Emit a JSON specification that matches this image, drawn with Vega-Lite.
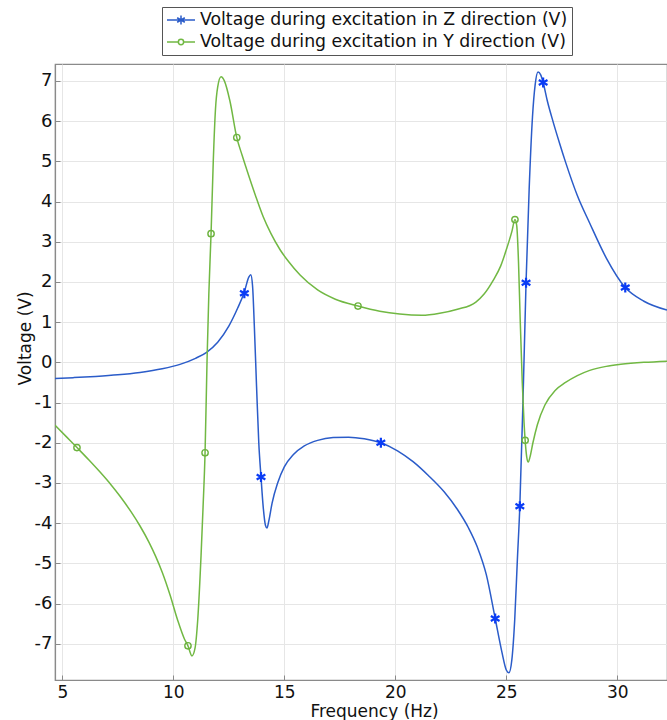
{
  "$schema": "https://vega.github.io/schema/vega-lite/v6.json",
  "autosize": {"type": "none"},
  "width": 612,
  "height": 616,
  "padding": {"left": 55, "top": 64, "right": 0, "bottom": 40},
  "background": "white",
  "config": {
    "font": "DejaVu Sans",
    "view": {"stroke": "#8a8a8a", "strokeWidth": 1.2},
    "axis": {
      "grid": true,
      "gridColor": "#e6e6e6",
      "gridWidth": 1,
      "domainColor": "#8a8a8a",
      "domainWidth": 1.2,
      "tickColor": "#8a8a8a",
      "tickSize": -5,
      "labelColor": "#111111",
      "titleColor": "#111111",
      "labelFontSize": 17,
      "titleFontSize": 17,
      "titleFontWeight": "normal"
    }
  },
  "datasets": {
    "lines": [
      {"f": 4.67, "v": -0.40, "s": "Voltage during excitation in Z direction (V)"},
      {"f": 5.5, "v": -0.38, "s": "Voltage during excitation in Z direction (V)"},
      {"f": 6.5, "v": -0.35, "s": "Voltage during excitation in Z direction (V)"},
      {"f": 7.5, "v": -0.31, "s": "Voltage during excitation in Z direction (V)"},
      {"f": 8.5, "v": -0.25, "s": "Voltage during excitation in Z direction (V)"},
      {"f": 9.5, "v": -0.16, "s": "Voltage during excitation in Z direction (V)"},
      {"f": 10.3, "v": -0.05, "s": "Voltage during excitation in Z direction (V)"},
      {"f": 11.0, "v": 0.10, "s": "Voltage during excitation in Z direction (V)"},
      {"f": 11.5, "v": 0.25, "s": "Voltage during excitation in Z direction (V)"},
      {"f": 12.0, "v": 0.50, "s": "Voltage during excitation in Z direction (V)"},
      {"f": 12.5, "v": 0.90, "s": "Voltage during excitation in Z direction (V)"},
      {"f": 12.9, "v": 1.35, "s": "Voltage during excitation in Z direction (V)"},
      {"f": 13.2, "v": 1.75, "s": "Voltage during excitation in Z direction (V)"},
      {"f": 13.4, "v": 2.12, "s": "Voltage during excitation in Z direction (V)"},
      {"f": 13.49, "v": 2.18, "s": "Voltage during excitation in Z direction (V)"},
      {"f": 13.57, "v": 1.9, "s": "Voltage during excitation in Z direction (V)"},
      {"f": 13.65, "v": 0.9, "s": "Voltage during excitation in Z direction (V)"},
      {"f": 13.75, "v": -0.6, "s": "Voltage during excitation in Z direction (V)"},
      {"f": 13.85, "v": -2.0, "s": "Voltage during excitation in Z direction (V)"},
      {"f": 13.95, "v": -2.85, "s": "Voltage during excitation in Z direction (V)"},
      {"f": 14.05, "v": -3.6, "s": "Voltage during excitation in Z direction (V)"},
      {"f": 14.15, "v": -4.05, "s": "Voltage during excitation in Z direction (V)"},
      {"f": 14.22, "v": -4.12, "s": "Voltage during excitation in Z direction (V)"},
      {"f": 14.3, "v": -3.95, "s": "Voltage during excitation in Z direction (V)"},
      {"f": 14.45, "v": -3.5, "s": "Voltage during excitation in Z direction (V)"},
      {"f": 14.7, "v": -3.0, "s": "Voltage during excitation in Z direction (V)"},
      {"f": 15.0, "v": -2.6, "s": "Voltage during excitation in Z direction (V)"},
      {"f": 15.4, "v": -2.3, "s": "Voltage during excitation in Z direction (V)"},
      {"f": 15.9, "v": -2.08, "s": "Voltage during excitation in Z direction (V)"},
      {"f": 16.5, "v": -1.94, "s": "Voltage during excitation in Z direction (V)"},
      {"f": 17.2, "v": -1.87, "s": "Voltage during excitation in Z direction (V)"},
      {"f": 17.9, "v": -1.86, "s": "Voltage during excitation in Z direction (V)"},
      {"f": 18.6, "v": -1.9, "s": "Voltage during excitation in Z direction (V)"},
      {"f": 19.35, "v": -2.0, "s": "Voltage during excitation in Z direction (V)"},
      {"f": 20.1, "v": -2.2, "s": "Voltage during excitation in Z direction (V)"},
      {"f": 20.8, "v": -2.47, "s": "Voltage during excitation in Z direction (V)"},
      {"f": 21.5, "v": -2.82, "s": "Voltage during excitation in Z direction (V)"},
      {"f": 22.2, "v": -3.22, "s": "Voltage during excitation in Z direction (V)"},
      {"f": 22.8, "v": -3.66, "s": "Voltage during excitation in Z direction (V)"},
      {"f": 23.3, "v": -4.12, "s": "Voltage during excitation in Z direction (V)"},
      {"f": 23.7, "v": -4.6, "s": "Voltage during excitation in Z direction (V)"},
      {"f": 24.1, "v": -5.28, "s": "Voltage during excitation in Z direction (V)"},
      {"f": 24.5, "v": -6.37, "s": "Voltage during excitation in Z direction (V)"},
      {"f": 24.8, "v": -7.2, "s": "Voltage during excitation in Z direction (V)"},
      {"f": 25.0, "v": -7.65, "s": "Voltage during excitation in Z direction (V)"},
      {"f": 25.12, "v": -7.72, "s": "Voltage during excitation in Z direction (V)"},
      {"f": 25.25, "v": -7.4, "s": "Voltage during excitation in Z direction (V)"},
      {"f": 25.38, "v": -6.4, "s": "Voltage during excitation in Z direction (V)"},
      {"f": 25.5, "v": -4.9, "s": "Voltage during excitation in Z direction (V)"},
      {"f": 25.61, "v": -3.58, "s": "Voltage during excitation in Z direction (V)"},
      {"f": 25.75, "v": -1.0, "s": "Voltage during excitation in Z direction (V)"},
      {"f": 25.89, "v": 1.98, "s": "Voltage during excitation in Z direction (V)"},
      {"f": 26.03, "v": 4.3, "s": "Voltage during excitation in Z direction (V)"},
      {"f": 26.18, "v": 6.1, "s": "Voltage during excitation in Z direction (V)"},
      {"f": 26.3, "v": 6.9, "s": "Voltage during excitation in Z direction (V)"},
      {"f": 26.43, "v": 7.22, "s": "Voltage during excitation in Z direction (V)"},
      {"f": 26.55, "v": 7.15, "s": "Voltage during excitation in Z direction (V)"},
      {"f": 26.66, "v": 6.96, "s": "Voltage during excitation in Z direction (V)"},
      {"f": 26.85, "v": 6.5, "s": "Voltage during excitation in Z direction (V)"},
      {"f": 27.1, "v": 6.0, "s": "Voltage during excitation in Z direction (V)"},
      {"f": 27.4, "v": 5.45, "s": "Voltage during excitation in Z direction (V)"},
      {"f": 27.67, "v": 4.98, "s": "Voltage during excitation in Z direction (V)"},
      {"f": 28.2, "v": 4.15, "s": "Voltage during excitation in Z direction (V)"},
      {"f": 28.76, "v": 3.46, "s": "Voltage during excitation in Z direction (V)"},
      {"f": 29.5, "v": 2.6, "s": "Voltage during excitation in Z direction (V)"},
      {"f": 30.36, "v": 1.86, "s": "Voltage during excitation in Z direction (V)"},
      {"f": 31.2, "v": 1.52, "s": "Voltage during excitation in Z direction (V)"},
      {"f": 32.24, "v": 1.3, "s": "Voltage during excitation in Z direction (V)"},
      {"f": 4.67, "v": -1.56, "s": "Voltage during excitation in Y direction (V)"},
      {"f": 5.2, "v": -1.86, "s": "Voltage during excitation in Y direction (V)"},
      {"f": 5.66, "v": -2.12, "s": "Voltage during excitation in Y direction (V)"},
      {"f": 6.2, "v": -2.43, "s": "Voltage during excitation in Y direction (V)"},
      {"f": 6.7, "v": -2.73, "s": "Voltage during excitation in Y direction (V)"},
      {"f": 7.2, "v": -3.05, "s": "Voltage during excitation in Y direction (V)"},
      {"f": 7.6, "v": -3.33, "s": "Voltage during excitation in Y direction (V)"},
      {"f": 8.1, "v": -3.72, "s": "Voltage during excitation in Y direction (V)"},
      {"f": 8.5, "v": -4.07, "s": "Voltage during excitation in Y direction (V)"},
      {"f": 8.9, "v": -4.47, "s": "Voltage during excitation in Y direction (V)"},
      {"f": 9.2, "v": -4.82, "s": "Voltage during excitation in Y direction (V)"},
      {"f": 9.5, "v": -5.22, "s": "Voltage during excitation in Y direction (V)"},
      {"f": 9.85, "v": -5.78, "s": "Voltage during excitation in Y direction (V)"},
      {"f": 10.2, "v": -6.42, "s": "Voltage during excitation in Y direction (V)"},
      {"f": 10.5, "v": -6.88, "s": "Voltage during excitation in Y direction (V)"},
      {"f": 10.66, "v": -7.05, "s": "Voltage during excitation in Y direction (V)"},
      {"f": 10.84, "v": -7.3, "s": "Voltage during excitation in Y direction (V)"},
      {"f": 10.98, "v": -7.1, "s": "Voltage during excitation in Y direction (V)"},
      {"f": 11.1, "v": -6.4, "s": "Voltage during excitation in Y direction (V)"},
      {"f": 11.25, "v": -4.8, "s": "Voltage during excitation in Y direction (V)"},
      {"f": 11.34, "v": -3.6, "s": "Voltage during excitation in Y direction (V)"},
      {"f": 11.43, "v": -2.25, "s": "Voltage during excitation in Y direction (V)"},
      {"f": 11.52, "v": 0.06, "s": "Voltage during excitation in Y direction (V)"},
      {"f": 11.6, "v": 1.7, "s": "Voltage during excitation in Y direction (V)"},
      {"f": 11.7, "v": 3.2, "s": "Voltage during excitation in Y direction (V)"},
      {"f": 11.8, "v": 5.0, "s": "Voltage during excitation in Y direction (V)"},
      {"f": 11.9, "v": 6.3, "s": "Voltage during excitation in Y direction (V)"},
      {"f": 12.0, "v": 6.85, "s": "Voltage during excitation in Y direction (V)"},
      {"f": 12.15, "v": 7.1, "s": "Voltage during excitation in Y direction (V)"},
      {"f": 12.3, "v": 7.0, "s": "Voltage during excitation in Y direction (V)"},
      {"f": 12.55, "v": 6.5, "s": "Voltage during excitation in Y direction (V)"},
      {"f": 12.86, "v": 5.59, "s": "Voltage during excitation in Y direction (V)"},
      {"f": 13.1, "v": 5.15, "s": "Voltage during excitation in Y direction (V)"},
      {"f": 13.31, "v": 4.79, "s": "Voltage during excitation in Y direction (V)"},
      {"f": 13.7, "v": 4.15, "s": "Voltage during excitation in Y direction (V)"},
      {"f": 14.05, "v": 3.62, "s": "Voltage during excitation in Y direction (V)"},
      {"f": 14.4, "v": 3.2, "s": "Voltage during excitation in Y direction (V)"},
      {"f": 14.81, "v": 2.8, "s": "Voltage during excitation in Y direction (V)"},
      {"f": 15.2, "v": 2.5, "s": "Voltage during excitation in Y direction (V)"},
      {"f": 15.71, "v": 2.17, "s": "Voltage during excitation in Y direction (V)"},
      {"f": 16.5, "v": 1.8, "s": "Voltage during excitation in Y direction (V)"},
      {"f": 17.3, "v": 1.57, "s": "Voltage during excitation in Y direction (V)"},
      {"f": 18.32, "v": 1.4, "s": "Voltage during excitation in Y direction (V)"},
      {"f": 19.3, "v": 1.27, "s": "Voltage during excitation in Y direction (V)"},
      {"f": 20.2, "v": 1.2, "s": "Voltage during excitation in Y direction (V)"},
      {"f": 21.2, "v": 1.17, "s": "Voltage during excitation in Y direction (V)"},
      {"f": 22.0, "v": 1.22, "s": "Voltage during excitation in Y direction (V)"},
      {"f": 22.8, "v": 1.32, "s": "Voltage during excitation in Y direction (V)"},
      {"f": 23.63, "v": 1.5, "s": "Voltage during excitation in Y direction (V)"},
      {"f": 24.0, "v": 1.7, "s": "Voltage during excitation in Y direction (V)"},
      {"f": 24.41, "v": 2.04, "s": "Voltage during excitation in Y direction (V)"},
      {"f": 24.75, "v": 2.4, "s": "Voltage during excitation in Y direction (V)"},
      {"f": 25.03, "v": 2.85, "s": "Voltage during excitation in Y direction (V)"},
      {"f": 25.25, "v": 3.25, "s": "Voltage during excitation in Y direction (V)"},
      {"f": 25.39, "v": 3.55, "s": "Voltage during excitation in Y direction (V)"},
      {"f": 25.47, "v": 3.4, "s": "Voltage during excitation in Y direction (V)"},
      {"f": 25.55, "v": 2.5, "s": "Voltage during excitation in Y direction (V)"},
      {"f": 25.63, "v": 1.0, "s": "Voltage during excitation in Y direction (V)"},
      {"f": 25.72, "v": -0.5, "s": "Voltage during excitation in Y direction (V)"},
      {"f": 25.8, "v": -1.5, "s": "Voltage during excitation in Y direction (V)"},
      {"f": 25.85, "v": -1.94, "s": "Voltage during excitation in Y direction (V)"},
      {"f": 25.92, "v": -2.35, "s": "Voltage during excitation in Y direction (V)"},
      {"f": 25.99, "v": -2.48, "s": "Voltage during excitation in Y direction (V)"},
      {"f": 26.07, "v": -2.35, "s": "Voltage during excitation in Y direction (V)"},
      {"f": 26.2, "v": -2.0, "s": "Voltage during excitation in Y direction (V)"},
      {"f": 26.4, "v": -1.55, "s": "Voltage during excitation in Y direction (V)"},
      {"f": 26.74, "v": -1.06, "s": "Voltage during excitation in Y direction (V)"},
      {"f": 27.2, "v": -0.7, "s": "Voltage during excitation in Y direction (V)"},
      {"f": 27.67, "v": -0.5, "s": "Voltage during excitation in Y direction (V)"},
      {"f": 28.2, "v": -0.33, "s": "Voltage during excitation in Y direction (V)"},
      {"f": 28.76, "v": -0.2, "s": "Voltage during excitation in Y direction (V)"},
      {"f": 29.5, "v": -0.1, "s": "Voltage during excitation in Y direction (V)"},
      {"f": 30.16, "v": -0.05, "s": "Voltage during excitation in Y direction (V)"},
      {"f": 31.2, "v": 0.0, "s": "Voltage during excitation in Y direction (V)"},
      {"f": 32.24, "v": 0.03, "s": "Voltage during excitation in Y direction (V)"}
    ],
    "stars": [
      {"f": 13.2, "v": 1.72},
      {"f": 13.95, "v": -2.85},
      {"f": 19.35, "v": -2.0},
      {"f": 24.5, "v": -6.37},
      {"f": 25.61, "v": -3.58},
      {"f": 25.89, "v": 1.98},
      {"f": 26.66, "v": 6.96},
      {"f": 30.36, "v": 1.86}
    ],
    "circles": [
      {"f": 5.66, "v": -2.12},
      {"f": 10.66, "v": -7.05},
      {"f": 11.43, "v": -2.25},
      {"f": 11.7, "v": 3.2},
      {"f": 12.86, "v": 5.59},
      {"f": 18.32, "v": 1.4},
      {"f": 25.39, "v": 3.55},
      {"f": 25.85, "v": -1.94}
    ]
  },
  "encoding": {
    "x": {
      "field": "f",
      "type": "quantitative",
      "scale": {"domain": [4.67, 32.24], "nice": false, "zero": false},
      "axis": {"title": "Frequency (Hz)", "values": [5, 10, 15, 20, 25, 30], "labelPadding": 9, "titleX": 319, "titleY": 40, "titleBaseline": "bottom", "titleAnchor": "middle"}
    },
    "y": {
      "field": "v",
      "type": "quantitative",
      "scale": {"domain": [-7.9, 7.42], "nice": false, "zero": false},
      "axis": {"title": "Voltage (V)", "values": [-7, -6, -5, -4, -3, -2, -1, 0, 1, 2, 3, 4, 5, 6, 7], "labelExpr": "'' + datum.value", "labelPadding": 8, "labelFontSize": 18, "titleX": -21, "titleY": 274, "titleBaseline": "bottom", "titleAnchor": "middle"}
    }
  },
  "layer": [
    {
      "data": {"name": "lines"},
      "mark": {"type": "line", "interpolate": "monotone", "strokeWidth": 1.5, "clip": true},
      "encoding": {
        "color": {
          "field": "s",
          "type": "nominal",
          "scale": {
            "domain": ["Voltage during excitation in Z direction (V)", "Voltage during excitation in Y direction (V)"],
            "range": ["#2b5cc9", "#71b843"]
          },
          "legend": {
            "orient": "none",
            "legendX": 107,
            "legendY": -57,
            "title": null,
            "labelFontSize": 17.3,
            "labelLimit": 0,
            "labelColor": "#111111",
            "strokeColor": "#555555",
            "fillColor": "white",
            "padding": 4,
            "rowPadding": 4,
            "symbolSize": 256,
            "symbolStrokeWidth": 1.5,
            "symbolOffset": 6,
            "labelOffset": 10,
            "encode": {
              "symbols": {
                "update": {
                  "shape": {"signal": "datum.value === 'Voltage during excitation in Z direction (V)' ? 'M-1.75,0H1.75M0,-0.55V0.55M-0.48,-0.28L0.48,0.28M-0.48,0.28L0.48,-0.28' : 'M-1.75,0H-0.33M0.33,0H1.75M-0.33,0A0.33,0.33 0 1 0 0.33,0A0.33,0.33 0 1 0 -0.33,0'"},
                  "fill": {"value": "transparent"}
                }
              }
            }
          }
        }
      }
    },
    {
      "data": {"name": "stars"},
      "mark": {"type": "point", "shape": "M0,-1V1M-0.87,-0.5L0.87,0.5M-0.87,0.5L0.87,-0.5", "filled": false, "size": 100, "strokeWidth": 2.2, "color": "#0a3cf5", "opacity": 1}
    },
    {
      "data": {"name": "circles"},
      "mark": {"type": "point", "shape": "circle", "filled": false, "size": 40, "strokeWidth": 1.4, "color": "#6db33f", "opacity": 1}
    }
  ]
}
